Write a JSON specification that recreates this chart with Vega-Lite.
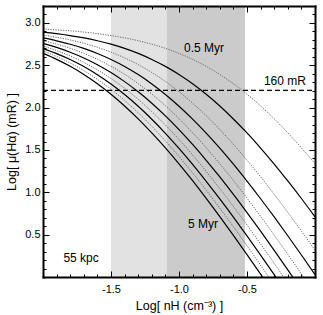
{
  "$schema": "https://vega.github.io/schema/vega-lite/v6.json",
  "width": 272,
  "height": 271,
  "autosize": {"type": "none"},
  "padding": {"left": 43, "top": 6, "right": 8, "bottom": 38},
  "background": "white",
  "config": {
    "font": "Liberation Sans",
    "view": {"stroke": null},
    "axis": {"grid": false, "tickColor": "black", "domainColor": "black", "labelColor": "black", "titleColor": "black", "labelFontSize": 11, "titleFontSize": 12.5, "titleFontWeight": "normal", "domainCap": "square", "tickWidth": 1}
  },
  "datasets": {
    "curves": [
      {"t":0.5,"x":-2,"y":2.928},{"t":0.5,"x":-1.9,"y":2.918},{"t":0.5,"x":-1.8,"y":2.907},{"t":0.5,"x":-1.7,"y":2.892},{"t":0.5,"x":-1.6,"y":2.874},{"t":0.5,"x":-1.5,"y":2.851},{"t":0.5,"x":-1.4,"y":2.824},{"t":0.5,"x":-1.3,"y":2.790},{"t":0.5,"x":-1.2,"y":2.749},{"t":0.5,"x":-1.1,"y":2.700},{"t":0.5,"x":-1,"y":2.640},{"t":0.5,"x":-0.9,"y":2.570},{"t":0.5,"x":-0.8,"y":2.488},{"t":0.5,"x":-0.7,"y":2.392},{"t":0.5,"x":-0.6,"y":2.282},{"t":0.5,"x":-0.5,"y":2.158},{"t":0.5,"x":-0.4,"y":2.020},{"t":0.5,"x":-0.3,"y":1.868},{"t":0.5,"x":-0.2,"y":1.702},{"t":0.5,"x":-0.1,"y":1.525},{"t":0.5,"x":0,"y":1.336},
      {"t":1,"x":-2,"y":2.892},{"t":1,"x":-1.9,"y":2.874},{"t":1,"x":-1.8,"y":2.851},{"t":1,"x":-1.7,"y":2.824},{"t":1,"x":-1.6,"y":2.790},{"t":1,"x":-1.5,"y":2.749},{"t":1,"x":-1.4,"y":2.699},{"t":1,"x":-1.3,"y":2.640},{"t":1,"x":-1.2,"y":2.569},{"t":1,"x":-1.1,"y":2.487},{"t":1,"x":-1,"y":2.391},{"t":1,"x":-0.9,"y":2.281},{"t":1,"x":-0.8,"y":2.157},{"t":1,"x":-0.7,"y":2.019},{"t":1,"x":-0.6,"y":1.866},{"t":1,"x":-0.5,"y":1.701},{"t":1,"x":-0.4,"y":1.523},{"t":1,"x":-0.3,"y":1.334},{"t":1,"x":-0.2,"y":1.134},{"t":1,"x":-0.1,"y":0.927},{"t":1,"x":0,"y":0.711},
      {"t":1.5,"x":-2,"y":2.857},{"t":1.5,"x":-1.9,"y":2.831},{"t":1.5,"x":-1.8,"y":2.799},{"t":1.5,"x":-1.7,"y":2.759},{"t":1.5,"x":-1.6,"y":2.712},{"t":1.5,"x":-1.5,"y":2.655},{"t":1.5,"x":-1.4,"y":2.587},{"t":1.5,"x":-1.3,"y":2.508},{"t":1.5,"x":-1.2,"y":2.415},{"t":1.5,"x":-1.1,"y":2.309},{"t":1.5,"x":-1,"y":2.188},{"t":1.5,"x":-0.9,"y":2.053},{"t":1.5,"x":-0.8,"y":1.904},{"t":1.5,"x":-0.7,"y":1.742},{"t":1.5,"x":-0.6,"y":1.566},{"t":1.5,"x":-0.5,"y":1.380},{"t":1.5,"x":-0.4,"y":1.183},{"t":1.5,"x":-0.3,"y":0.977},{"t":1.5,"x":-0.2,"y":0.763},{"t":1.5,"x":-0.1,"y":0.543},{"t":1.5,"x":0,"y":0.318},
      {"t":2,"x":-2,"y":2.823},{"t":2,"x":-1.9,"y":2.789},{"t":2,"x":-1.8,"y":2.748},{"t":2,"x":-1.7,"y":2.699},{"t":2,"x":-1.6,"y":2.639},{"t":2,"x":-1.5,"y":2.568},{"t":2,"x":-1.4,"y":2.486},{"t":2,"x":-1.3,"y":2.390},{"t":2,"x":-1.2,"y":2.280},{"t":2,"x":-1.1,"y":2.156},{"t":2,"x":-1,"y":2.017},{"t":2,"x":-0.9,"y":1.865},{"t":2,"x":-0.8,"y":1.699},{"t":2,"x":-0.7,"y":1.521},{"t":2,"x":-0.6,"y":1.332},{"t":2,"x":-0.5,"y":1.132},{"t":2,"x":-0.4,"y":0.924},{"t":2,"x":-0.3,"y":0.709},{"t":2,"x":-0.2,"y":0.487},{"t":2,"x":-0.1,"y":0.260},{"t":2,"x":0,"y":0.029},
      {"t":2.5,"x":-2,"y":2.791},{"t":2.5,"x":-1.9,"y":2.750},{"t":2.5,"x":-1.8,"y":2.700},{"t":2.5,"x":-1.7,"y":2.641},{"t":2.5,"x":-1.6,"y":2.571},{"t":2.5,"x":-1.5,"y":2.488},{"t":2.5,"x":-1.4,"y":2.393},{"t":2.5,"x":-1.3,"y":2.283},{"t":2.5,"x":-1.2,"y":2.160},{"t":2.5,"x":-1.1,"y":2.022},{"t":2.5,"x":-1,"y":1.870},{"t":2.5,"x":-0.9,"y":1.704},{"t":2.5,"x":-0.8,"y":1.527},{"t":2.5,"x":-0.7,"y":1.338},{"t":2.5,"x":-0.6,"y":1.139},{"t":2.5,"x":-0.5,"y":0.931},{"t":2.5,"x":-0.4,"y":0.716},{"t":2.5,"x":-0.3,"y":0.494},{"t":2.5,"x":-0.2,"y":0.268},{"t":2.5,"x":-0.1,"y":0.036},{"t":2.5,"x":0,"y":-0.199},
      {"t":3,"x":-2,"y":2.759},{"t":3,"x":-1.9,"y":2.711},{"t":3,"x":-1.8,"y":2.654},{"t":3,"x":-1.7,"y":2.586},{"t":3,"x":-1.6,"y":2.507},{"t":3,"x":-1.5,"y":2.414},{"t":3,"x":-1.4,"y":2.307},{"t":3,"x":-1.3,"y":2.187},{"t":3,"x":-1.2,"y":2.052},{"t":3,"x":-1.1,"y":1.902},{"t":3,"x":-1,"y":1.740},{"t":3,"x":-0.9,"y":1.565},{"t":3,"x":-0.8,"y":1.378},{"t":3,"x":-0.7,"y":1.181},{"t":3,"x":-0.6,"y":0.975},{"t":3,"x":-0.5,"y":0.761},{"t":3,"x":-0.4,"y":0.541},{"t":3,"x":-0.3,"y":0.315},{"t":3,"x":-0.2,"y":0.085},{"t":3,"x":-0.1,"y":-0.149},
      {"t":3.5,"x":-2,"y":2.728},{"t":3.5,"x":-1.9,"y":2.674},{"t":3.5,"x":-1.8,"y":2.610},{"t":3.5,"x":-1.7,"y":2.534},{"t":3.5,"x":-1.6,"y":2.446},{"t":3.5,"x":-1.5,"y":2.344},{"t":3.5,"x":-1.4,"y":2.228},{"t":3.5,"x":-1.3,"y":2.098},{"t":3.5,"x":-1.2,"y":1.953},{"t":3.5,"x":-1.1,"y":1.795},{"t":3.5,"x":-1,"y":1.624},{"t":3.5,"x":-0.9,"y":1.441},{"t":3.5,"x":-0.8,"y":1.247},{"t":3.5,"x":-0.7,"y":1.044},{"t":3.5,"x":-0.6,"y":0.833},{"t":3.5,"x":-0.5,"y":0.614},{"t":3.5,"x":-0.4,"y":0.390},{"t":3.5,"x":-0.3,"y":0.161},{"t":3.5,"x":-0.2,"y":-0.072},
      {"t":4,"x":-2,"y":2.698},{"t":4,"x":-1.9,"y":2.638},{"t":4,"x":-1.8,"y":2.568},{"t":4,"x":-1.7,"y":2.485},{"t":4,"x":-1.6,"y":2.389},{"t":4,"x":-1.5,"y":2.279},{"t":4,"x":-1.4,"y":2.154},{"t":4,"x":-1.3,"y":2.016},{"t":4,"x":-1.2,"y":1.863},{"t":4,"x":-1.1,"y":1.697},{"t":4,"x":-1,"y":1.519},{"t":4,"x":-0.9,"y":1.330},{"t":4,"x":-0.8,"y":1.130},{"t":4,"x":-0.7,"y":0.922},{"t":4,"x":-0.6,"y":0.707},{"t":4,"x":-0.5,"y":0.485},{"t":4,"x":-0.4,"y":0.258},{"t":4,"x":-0.3,"y":0.027},{"t":4,"x":-0.2,"y":-0.208},
      {"t":4.5,"x":-2,"y":2.669},{"t":4.5,"x":-1.9,"y":2.604},{"t":4.5,"x":-1.8,"y":2.527},{"t":4.5,"x":-1.7,"y":2.437},{"t":4.5,"x":-1.6,"y":2.334},{"t":4.5,"x":-1.5,"y":2.217},{"t":4.5,"x":-1.4,"y":2.085},{"t":4.5,"x":-1.3,"y":1.939},{"t":4.5,"x":-1.2,"y":1.780},{"t":4.5,"x":-1.1,"y":1.607},{"t":4.5,"x":-1,"y":1.423},{"t":4.5,"x":-0.9,"y":1.229},{"t":4.5,"x":-0.8,"y":1.025},{"t":4.5,"x":-0.7,"y":0.813},{"t":4.5,"x":-0.6,"y":0.594},{"t":4.5,"x":-0.5,"y":0.370},{"t":4.5,"x":-0.4,"y":0.140},{"t":4.5,"x":-0.3,"y":-0.093},
      {"t":5,"x":-2,"y":2.640},{"t":5,"x":-1.9,"y":2.570},{"t":5,"x":-1.8,"y":2.488},{"t":5,"x":-1.7,"y":2.392},{"t":5,"x":-1.6,"y":2.282},{"t":5,"x":-1.5,"y":2.158},{"t":5,"x":-1.4,"y":2.020},{"t":5,"x":-1.3,"y":1.868},{"t":5,"x":-1.2,"y":1.702},{"t":5,"x":-1.1,"y":1.525},{"t":5,"x":-1,"y":1.336},{"t":5,"x":-0.9,"y":1.137},{"t":5,"x":-0.8,"y":0.929},{"t":5,"x":-0.7,"y":0.714},{"t":5,"x":-0.6,"y":0.492},{"t":5,"x":-0.5,"y":0.265},{"t":5,"x":-0.4,"y":0.034},{"t":5,"x":-0.3,"y":-0.201}
    ],
    "zones": [{"zone": "outer", "lo": -1.5, "hi": -1.09}, {"zone": "inner", "lo": -1.09, "hi": -0.515}],
    "ref": [{"level": 2.204, "from": -2, "to": 0}],
    "notes": [
      {"note": "0.5 Myr", "x": -0.816, "y": 2.70},
      {"note": "160 mR", "x": -0.221, "y": 2.31},
      {"note": "55 kpc", "x": -1.72, "y": 0.23},
      {"note": "5 Myr", "x": -0.824, "y": 0.626}
    ]
  },
  "layer": [
    {
      "data": {"name": "zones"},
      "transform": [{"filter": "datum.zone == 'outer'"}],
      "mark": {"type": "rect", "color": "#e2e2e2"},
      "encoding": {
        "x": {"field": "lo", "type": "quantitative", "scale": {"domain": [-2, 0], "nice": false, "zero": false}, "axis": null},
        "x2": {"field": "hi"}
      }
    },
    {
      "data": {"name": "zones"},
      "transform": [{"filter": "datum.zone == 'inner'"}],
      "mark": {"type": "rect", "color": "#cbcbcb"},
      "encoding": {
        "x": {"field": "lo", "type": "quantitative", "scale": {"domain": [-2, 0], "nice": false, "zero": false}, "axis": null},
        "x2": {"field": "hi"}
      }
    },
    {
      "data": {"name": "ref"},
      "mark": {"type": "rule", "color": "black", "strokeWidth": 1.3, "strokeDash": [5, 3]},
      "encoding": {
        "x": {"field": "from", "type": "quantitative", "scale": {"domain": [-2, 0], "nice": false, "zero": false},
              "axis": {"orient": "top", "values": [-1.9,-1.8,-1.7,-1.6,-1.4,-1.3,-1.2,-1.1,-0.9,-0.8,-0.7,-0.6,-0.4,-0.3,-0.2,-0.1], "tickSize": -3, "labels": false, "domain": false, "title": null, "zindex": 1}},
        "x2": {"field": "to"},
        "y": {"field": "level", "type": "quantitative", "scale": {"domain": [0, 3.2], "nice": false, "zero": false},
              "axis": {"orient": "right", "values": [0.1,0.2,0.3,0.4,0.6,0.7,0.8,0.9,1.1,1.2,1.3,1.4,1.6,1.7,1.8,1.9,2.1,2.2,2.3,2.4,2.6,2.7,2.8,2.9,3.1], "tickSize": -3, "labels": false, "domain": false, "title": null, "zindex": 1}}
      }
    },
    {
      "data": {"name": "curves"},
      "transform": [{"filter": "datum.t % 1 != 0"}],
      "mark": {"type": "line", "color": "#666666", "strokeWidth": 1, "strokeDash": [1.2, 1.3], "interpolate": "monotone", "clip": true},
      "encoding": {
        "x": {"field": "x", "type": "quantitative", "scale": {"domain": [-2, 0], "nice": false, "zero": false},
              "axis": {"orient": "top", "values": [-1.5, -1, -0.5], "tickSize": -6, "labels": false, "domainWidth": 2, "title": null, "zindex": 1}},
        "y": {"field": "y", "type": "quantitative", "scale": {"domain": [0, 3.2], "nice": false, "zero": false},
              "axis": {"orient": "right", "values": [0.5, 1, 1.5, 2, 2.5, 3], "tickSize": -6, "labels": false, "domainWidth": 2, "title": null, "zindex": 1}},
        "detail": {"field": "t", "type": "nominal"}
      }
    },
    {
      "data": {"name": "curves"},
      "transform": [{"filter": "datum.t % 1 == 0"}],
      "mark": {"type": "line", "color": "black", "strokeWidth": 1.2, "interpolate": "monotone", "clip": true},
      "encoding": {
        "x": {"field": "x", "type": "quantitative", "scale": {"domain": [-2, 0], "nice": false, "zero": false},
              "axis": {"orient": "bottom", "values": [-1.5, -1, -0.5], "labelExpr": "(datum.value < 0 ? '-' : '') + format(abs(datum.value), '.1f')", "tickSize": -6, "labelPadding": 12, "domainWidth": 2, "title": "Log[ nH (cm⁻³) ]", "titlePadding": 5, "zindex": 1}},
        "y": {"field": "y", "type": "quantitative", "scale": {"domain": [0, 3.2], "nice": false, "zero": false},
              "axis": {"orient": "left", "values": [0.5, 1, 1.5, 2, 2.5, 3], "format": ".1f", "tickSize": -6, "labelPadding": 9, "domainWidth": 2, "title": "Log[ μ(Hα) (mR) ]", "titlePadding": 6, "zindex": 1}},
        "detail": {"field": "t", "type": "nominal"}
      }
    },
    {
      "data": {"name": "notes"},
      "mark": {"type": "text", "fontSize": 12, "align": "center", "baseline": "middle", "color": "black"},
      "encoding": {
        "x": {"field": "x", "type": "quantitative", "scale": {"domain": [-2, 0], "nice": false, "zero": false},
              "axis": {"orient": "bottom", "values": [-1.9,-1.8,-1.7,-1.6,-1.4,-1.3,-1.2,-1.1,-0.9,-0.8,-0.7,-0.6,-0.4,-0.3,-0.2,-0.1], "tickSize": -3, "labels": false, "domain": false, "title": null, "zindex": 1}},
        "y": {"field": "y", "type": "quantitative", "scale": {"domain": [0, 3.2], "nice": false, "zero": false},
              "axis": {"orient": "left", "values": [0.1,0.2,0.3,0.4,0.6,0.7,0.8,0.9,1.1,1.2,1.3,1.4,1.6,1.7,1.8,1.9,2.1,2.2,2.3,2.4,2.6,2.7,2.8,2.9,3.1], "tickSize": -3, "labels": false, "domain": false, "title": null, "zindex": 1}},
        "text": {"field": "note", "type": "nominal"}
      }
    }
  ],
  "resolve": {"axis": {"x": "independent", "y": "independent"}}
}
